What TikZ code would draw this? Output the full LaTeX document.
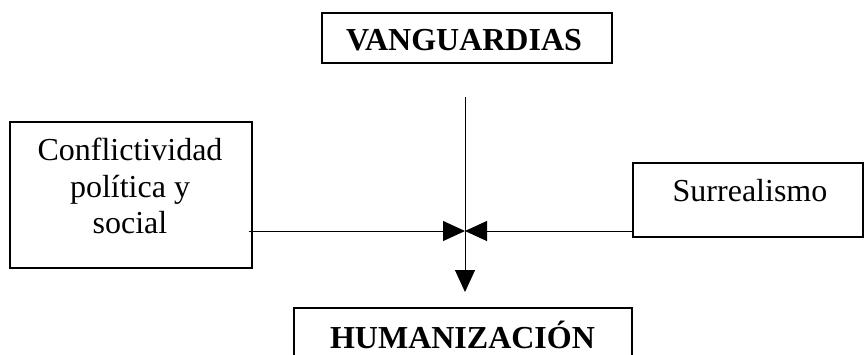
\documentclass[tikz,border=0pt]{standalone}
\usepackage{fontspec}
\setmainfont{Liberation Serif}
\usetikzlibrary{arrows.meta}

\begin{document}
\begin{tikzpicture}[x=1pt, y=-1pt,
    caja/.style={draw, line width=1.2pt, rectangle, inner sep=0pt},
    texto/.style={align=center, inner sep=0pt, font=\fontsize{32}{36.5}\selectfont},
    titulo/.style={texto, font=\fontsize{32}{36.5}\selectfont\bfseries},
    flecha/.style={-{Triangle[length=22pt, width=20pt]}, line width=1pt}]
    \useasboundingbox (0,0) rectangle (864,354);
    \clip (0,0) rectangle (864,354);

    % Boxes
    \node[caja, minimum width=290, minimum height=50] (vang) at (467,38) {};
    \node[titulo] (vangt) at (464,40.5) {VANGUARDIAS};

    \node[caja, minimum width=242, minimum height=146] (confl) at (131,195) {};
    \node[texto] (conflt) at (130,186) {Conflictividad\\política y\\social};

    \node[caja, minimum width=230, minimum height=74] (surr) at (748,200) {};
    \node[texto] (surrt) at (750,191) {Surrealismo};

    \node[caja, minimum width=338, minimum height=80] (human) at (463,348) {};
    \node[titulo] (humant) at (462.5,335) {HUMANIZACIÓN};

    % Arrows
    \coordinate (arriba) at (465,97);
    \coordinate (cruce) at (465,231);
    \coordinate (abajo) at (465,292);
    \draw[line width=1pt] (arriba) -- (cruce);
    \draw[flecha] (cruce) -- (abajo);
    \draw[flecha] ([xshift=-4]confl.east |- cruce) -- (cruce);
    \draw[flecha] (surr.west |- cruce) -- (cruce);
\end{tikzpicture}
\end{document}
